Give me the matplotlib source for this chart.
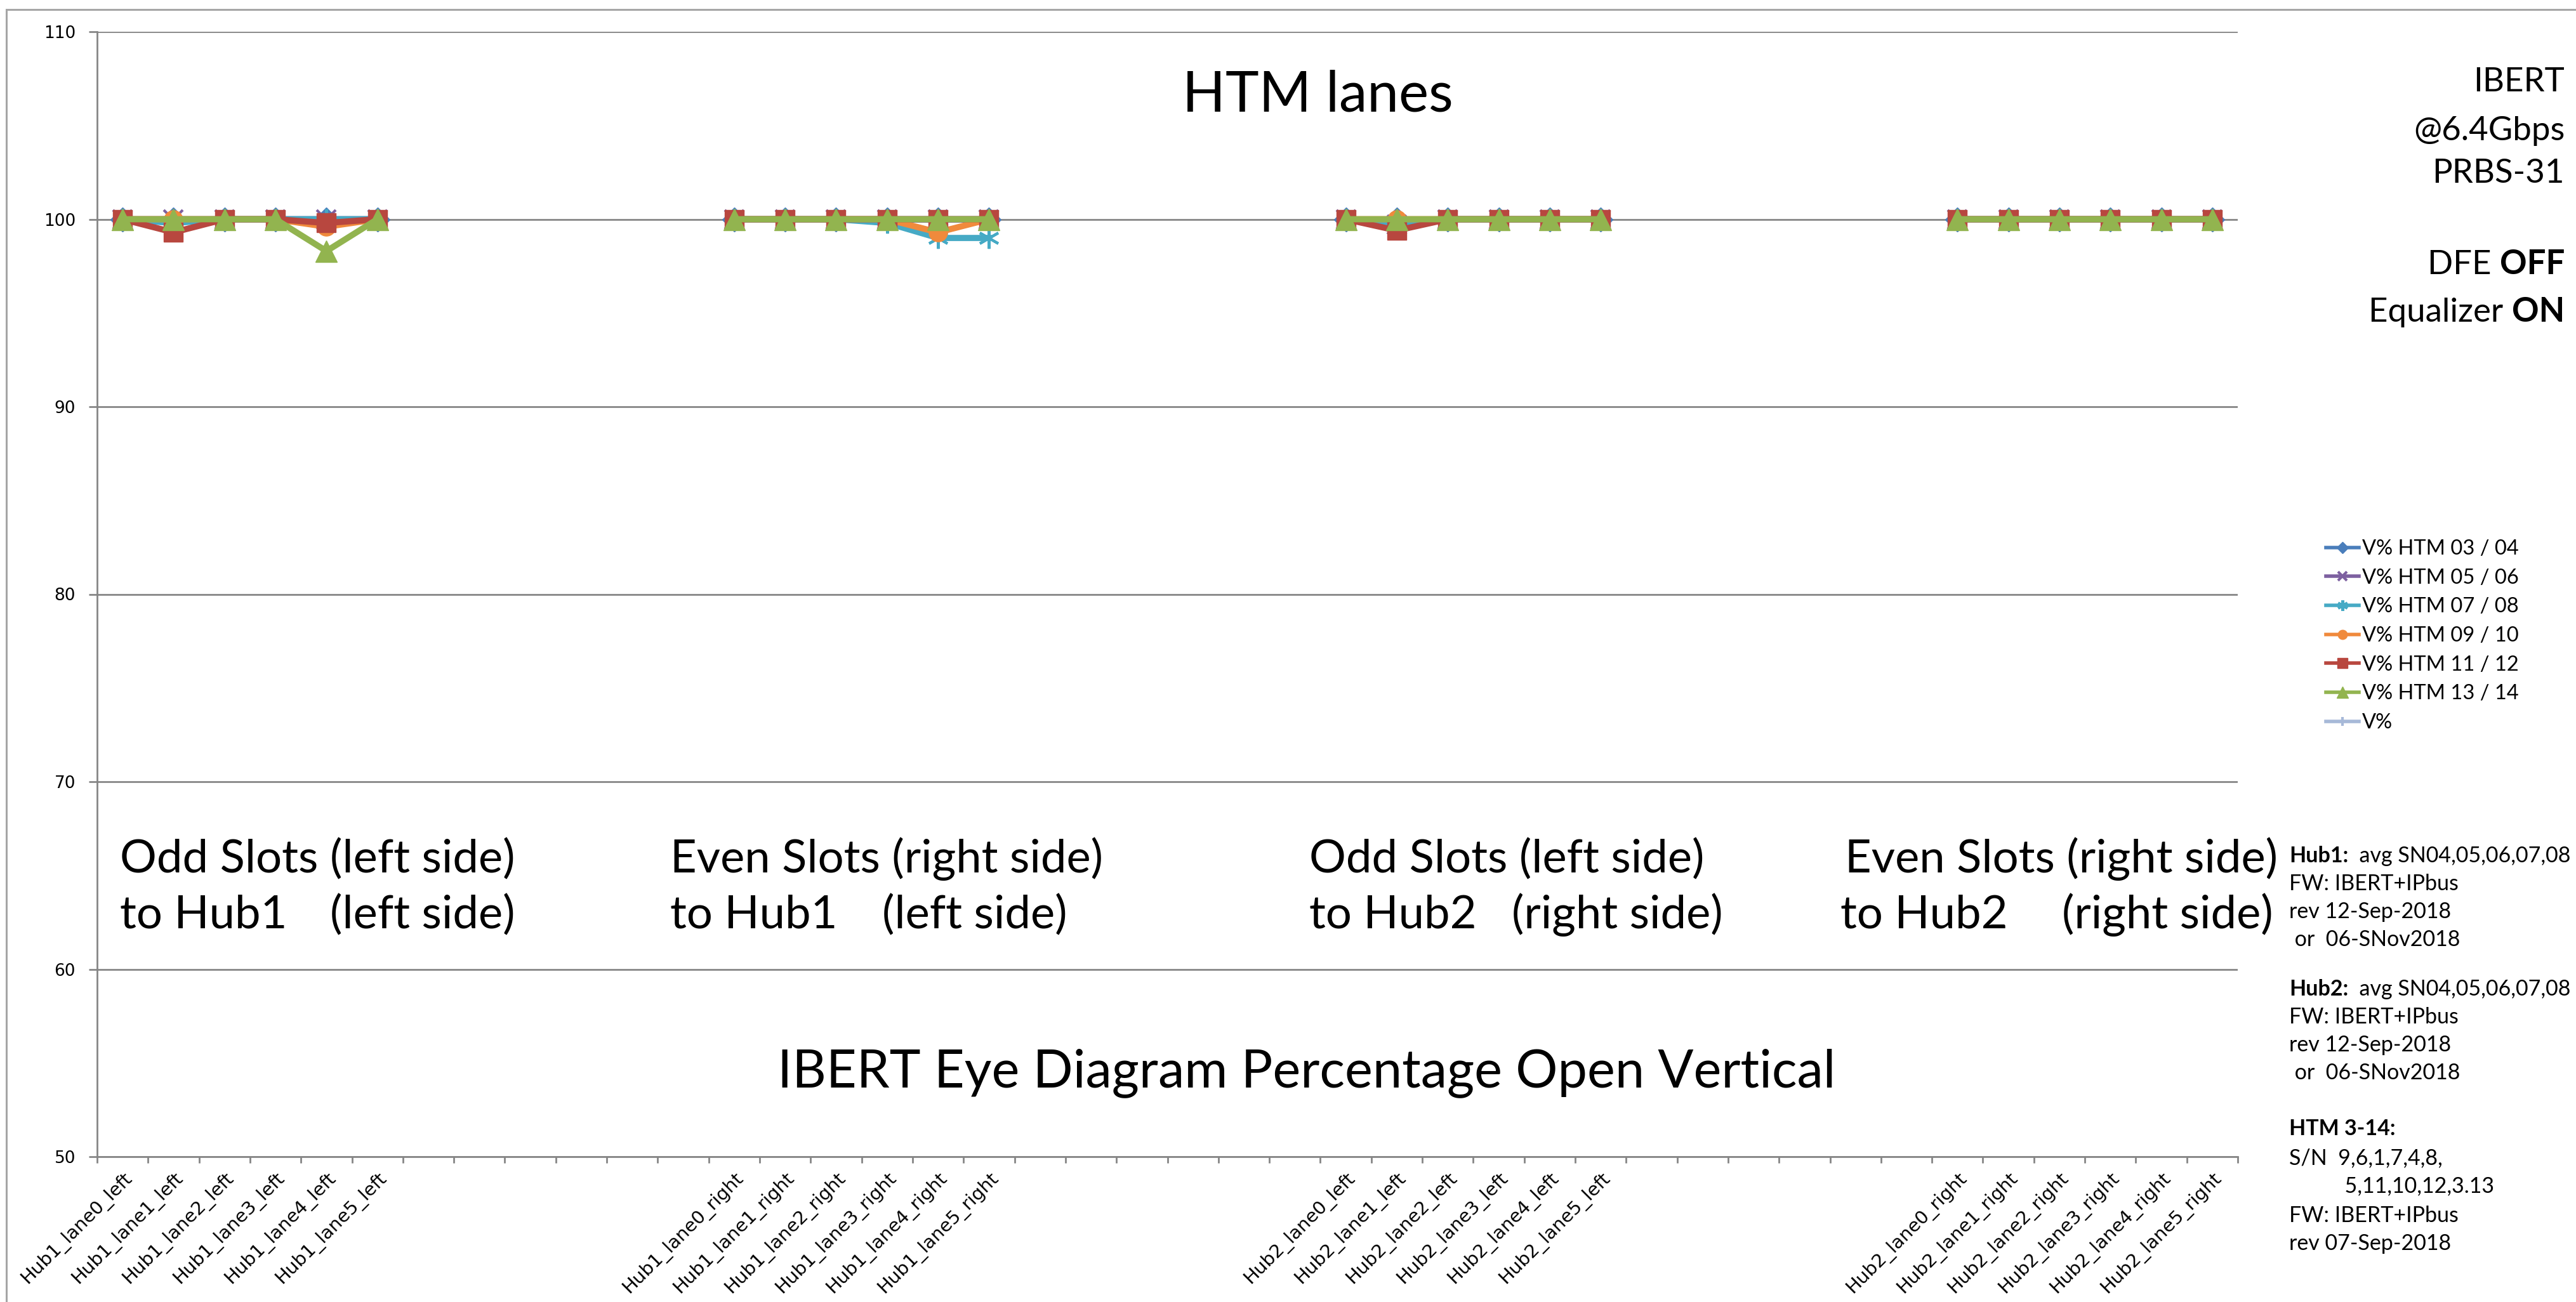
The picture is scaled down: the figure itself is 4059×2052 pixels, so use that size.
import matplotlib
matplotlib.use("Agg")
import matplotlib.pyplot as plt
import numpy as np
from matplotlib.patches import Rectangle

# x categories: four groups of six lanes, empty slots between the groups
hub1_left = ["Hub1_lane0_left", "Hub1_lane1_left", "Hub1_lane2_left",
             "Hub1_lane3_left", "Hub1_lane4_left", "Hub1_lane5_left"]
hub1_right = ["Hub1_lane0_right", "Hub1_lane1_right", "Hub1_lane2_right",
              "Hub1_lane3_right", "Hub1_lane4_right", "Hub1_lane5_right"]
hub2_left = ["Hub2_lane0_left", "Hub2_lane1_left", "Hub2_lane2_left",
             "Hub2_lane3_left", "Hub2_lane4_left", "Hub2_lane5_left"]
hub2_right = ["Hub2_lane0_right", "Hub2_lane1_right", "Hub2_lane2_right",
              "Hub2_lane3_right", "Hub2_lane4_right", "Hub2_lane5_right"]
group_start = [0, 12, 24, 36]
n_slots = 42

series_names = ["V% HTM 03 / 04", "V% HTM 05 / 06", "V% HTM 07 / 08",
                "V% HTM 09 / 10", "V% HTM 11 / 12", "V% HTM 13 / 14", "V%"]

# eye opening (%) per group: Hub1 left | Hub1 right | Hub2 left | Hub2 right
htm_03_04 = [100, 100, 100, 100, 100, 100,   100, 100, 100, 100, 100, 100,
             100, 100, 100, 100, 100, 100,   100, 100, 100, 100, 100, 100]
htm_05_06 = [100, 100, 100, 100, 100, 100,   100, 100, 100, 100, 100, 100,
             100, 99.7, 100, 100, 100, 100,  100, 100, 100, 100, 100, 100]
htm_07_08 = [100, 99.8, 100, 100, 100, 100,  100, 100, 100, 99.8, 99.0, 99.0,
             100, 99.7, 100, 100, 100, 100,  100, 100, 100, 100, 100, 100]
htm_09_10 = [100, 100, 100, 100, 99.6, 100,  100, 100, 100, 100, 99.3, 100,
             100, 100, 100, 100, 100, 100,   100, 100, 100, 100, 100, 100]
htm_11_12 = [100, 99.3, 100, 100, 99.8, 100, 100, 100, 100, 100, 100, 100,
             100, 99.4, 100, 100, 100, 100,  100, 100, 100, 100, 100, 100]
htm_13_14 = [100, 100, 100, 100, 98.3, 100,  100, 100, 100, 100, 100, 100,
             100, 100, 100, 100, 100, 100,   100, 100, 100, 100, 100, 100]
v_pct = []  # empty series, only in the legend

y_ticks = [50, 60, 70, 80, 90, 100, 110]

W, H, DPI = 4059, 2052, 100
FONT = "Lato"
GRID = "#868686"


def fx(x):
    return x / W


def fy(y):
    return 1 - y / H


fig = plt.figure(figsize=(W / DPI, H / DPI), dpi=DPI)
ax = fig.add_axes([fx(153), fy(1823), (3526 - 153) / W, (1823 - 50) / H])

labels = [""] * n_slots
for start, names in zip(group_start, [hub1_left, hub1_right, hub2_left, hub2_right]):
    for i, name in enumerate(names):
        labels[start + i] = name

styles = [
    dict(color="#4A7EBB", marker="D", ms=19),
    dict(color="#7D60A0", marker="x", ms=21, mew=3),
    dict(color="#46AAC5", marker=(6, 2, 0), ms=24, mew=3),
    dict(color="#F08A3C", marker="o", ms=21),
    dict(color="#B8473F", marker="s", ms=22),
    dict(color="#92B44F", marker="^", ms=25),
    dict(color="#A7B9D8", marker="+", ms=21, mew=3),
]
series = [htm_03_04, htm_05_06, htm_07_08, htm_09_10, htm_11_12, htm_13_14, v_pct]

xs = np.arange(n_slots) + 0.5
for k, (vals, st, name) in enumerate(zip(series, styles, series_names)):
    y = np.full(n_slots, np.nan)
    for gi, start in enumerate(group_start):
        chunk = vals[gi * 6:(gi + 1) * 6]
        y[start:start + len(chunk)] = chunk
    ax.plot(xs, y, lw=7, label=name, zorder=3 + k,
            markeredgecolor=st["color"], markerfacecolor=st["color"], **st)

ax.set_xlim(0, n_slots)
ax.set_ylim(50, 110)
ax.set_yticks(y_ticks)
ax.yaxis.grid(True, color=GRID, lw=2)
ax.set_axisbelow(True)
for s in ["top", "right"]:
    ax.spines[s].set_visible(False)
for s in ["left", "bottom"]:
    ax.spines[s].set_color(GRID)
    ax.spines[s].set_linewidth(2)
ax.tick_params(axis="y", length=9.5, width=2, color=GRID, pad=15, labelsize=19)
ax.set_xticks(xs)
ax.set_xticklabels(labels, rotation=45, ha="right", rotation_mode="anchor", fontsize=21)
ax.set_xticks(np.arange(n_slots + 1), minor=True)
ax.tick_params(axis="x", which="major", length=0, pad=14)
ax.tick_params(axis="x", which="minor", length=7, width=2, color=GRID)

# chart area border (only top and left edges are inside the picture)
fig.patches.append(Rectangle((fx(10), fy(2300)), 1.2, (2300 - 15) / H,
                             transform=fig.transFigure, fill=False, ec="#A6A6A6", lw=2.2))

renderer = fig.canvas.get_renderer()


def fit(t, width_px):
    w = t.get_window_extent(renderer).width
    t.set_fontsize(t.get_fontsize() * width_px / w)
    return t.get_fontsize()


title = fig.text(fx(2076), fy(150), "HTM lanes", ha="center", va="center",
                 family=FONT, fontsize=60)
fit(title, 427)

ref = fig.text(fx(2907), fy(1354), "Even Slots (right side)", ha="left", va="center",
               family=FONT, fontsize=50)
gsize = fit(ref, 681)
ref.remove()
group_text = [
    (189, 1354, "Odd Slots"), (520, 1354, "(left side)"),
    (189, 1442, "to Hub1"), (520, 1442, "(left side)"),
    (1056, 1354, "Even Slots (right side)"), (1056, 1442, "to Hub1"), (1390, 1442, "(left side)"),
    (2063, 1354, "Odd Slots (left side)"), (2063, 1442, "to Hub2"), (2382, 1442, "(right side)"),
    (2907, 1354, "Even Slots (right side)"), (2900, 1442, "to Hub2"), (3249, 1442, "(right side)"),
]
for x, y, s in group_text:
    fig.text(fx(x), fy(y), s, ha="left", va="center", family=FONT, fontsize=gsize)

bottom = fig.text(fx(1225), fy(1691), "IBERT Eye Diagram Percentage Open Vertical",
                  ha="left", va="center", family=FONT, fontsize=50)
fit(bottom, 1667)

# run conditions, right aligned: (regular part, bold part, y)
ref = fig.text(0, 0, "@6.4Gbps", family=FONT, fontsize=30)
isize = fit(ref, 238)
ref.remove()
info = [("IBERT", "", 129), ("@6.4Gbps", "", 207), ("PRBS-31", "", 274),
        ("DFE ", "OFF", 417), ("Equalizer ", "ON", 492)]
for reg, bold, y in info:
    if bold:
        tb = fig.text(fx(4041), fy(y), bold, ha="right", va="center",
                      family=FONT, fontsize=isize, fontweight="bold")
        ax.annotate(reg, xy=(0, 0), xycoords=tb, ha="right", va="bottom",
                    family=FONT, fontsize=isize, annotation_clip=False)
    else:
        fig.text(fx(4041), fy(y), reg, ha="right", va="center", family=FONT, fontsize=isize)

# board notes, left aligned: (bold part, regular part, y)
notes = [("Hub1:", "  avg SN04,05,06,07,08", 1349), ("", "FW: IBERT+IPbus", 1393),
         ("", "rev 12-Sep-2018", 1437), ("", " or  06-SNov2018", 1481),
         ("Hub2:", "  avg SN04,05,06,07,08", 1559), ("", "FW: IBERT+IPbus", 1603),
         ("", "rev 12-Sep-2018", 1647), ("", " or  06-SNov2018", 1691),
         ("HTM 3-14:", "", 1779), ("", "S/N  9,6,1,7,4,8,", 1825),
         ("", "          5,11,10,12,3.13", 1869), ("", "FW: IBERT+IPbus", 1916),
         ("", "rev 07-Sep-2018", 1960)]
nsize = 24.5
for bold, reg, y in notes:
    if bold:
        tb = fig.text(fx(3607), fy(y), bold, ha="left", va="center",
                      family=FONT, fontsize=nsize, fontweight="bold")
        if reg:
            ax.annotate(reg, xy=(1, 0), xycoords=tb, ha="left", va="bottom",
                        family=FONT, fontsize=nsize, annotation_clip=False)
    else:
        fig.text(fx(3607), fy(y), reg, ha="left", va="center", family=FONT, fontsize=nsize)

leg = fig.legend(handles=ax.get_lines(), loc="upper left", bbox_to_anchor=(fx(3665), fy(850)),
                 frameon=False, prop=dict(family=FONT, size=23.5), handlelength=1.6,
                 handletextpad=0.15, labelspacing=0.48, markerscale=0.5,
                 borderaxespad=0, borderpad=0)
for ln in leg.get_lines():
    ln.set_linewidth(4)

fig.savefig("out.png", dpi=DPI, facecolor="white")
